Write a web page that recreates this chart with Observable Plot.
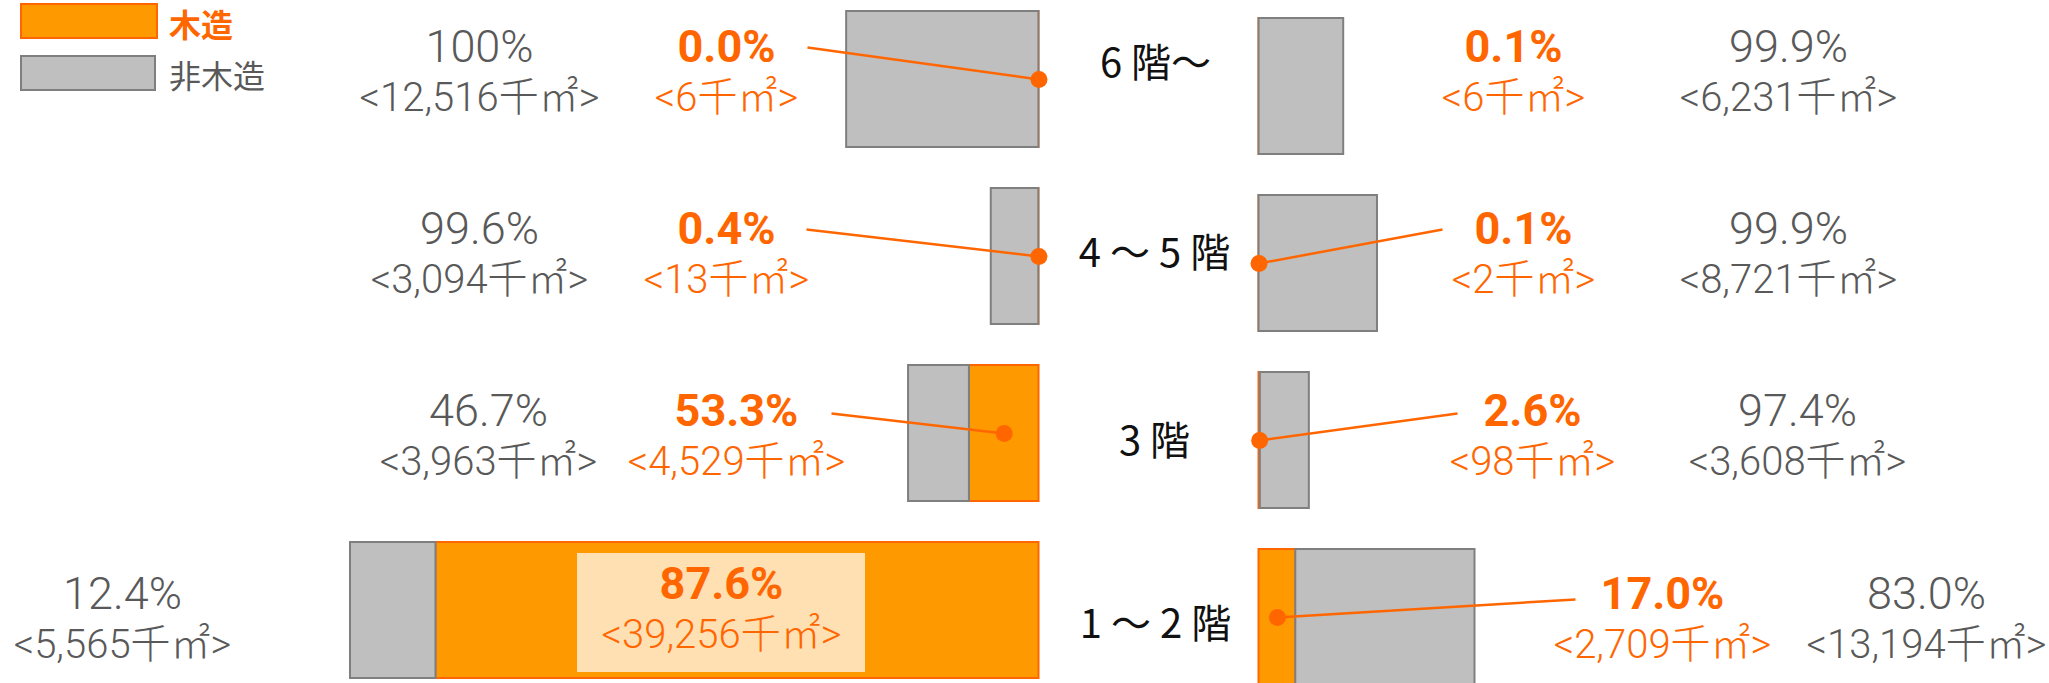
<!DOCTYPE html>
<html>
<head>
<meta charset="utf-8">
<script src="https://cdn.jsdelivr.net/npm/d3@7"></script>
<script src="https://cdn.jsdelivr.net/npm/@observablehq/plot@0.6"></script>
<style>
  html, body { margin: 0; padding: 0; background: #ffffff; }
  body { font-family: 'Noto Sans CJK JP', 'Noto Sans CJK SC', sans-serif; }
  #chart { position: relative; width: 2049px; height: 683px; overflow: hidden; }
  #chart svg { position: absolute; left: 0; top: 0; }
  .swatch { position: absolute; box-sizing: border-box; height: 36px; }
  .legtext { position: absolute; font-size: 32px; line-height: 46px; height: 46px; white-space: nowrap; }
</style>
</head>
<body>
<div id="chart"></div>
<script>
// ---------------- data ----------------
const floors = ["6 階〜", "4 〜 5 階", "3 階", "1 〜 2 階"];
const seriesNames = ["木造", "非木造"];

// left block (千㎡ and %)
const leftWood       = [6, 13, 4529, 39256];
const leftNonWood    = [12516, 3094, 3963, 5565];
const leftWoodPct    = [0.0, 0.4, 53.3, 87.6];
const leftNonWoodPct = [100, 99.6, 46.7, 12.4];

// right block (千㎡ and %)
const rightWood       = [6, 2, 98, 2709];
const rightNonWood    = [6231, 8721, 3608, 13194];
const rightWoodPct    = [0.1, 0.1, 2.6, 17.0];
const rightNonWoodPct = [99.9, 99.9, 97.4, 83.0];

// ---------------- style / layout ----------------
const W = 2049, H = 683;
const FONT = "'Noto Sans CJK JP', 'Noto Sans CJK SC', sans-serif";
const NUMFONT = "Roboto, 'Noto Sans CJK JP', sans-serif";
const C = {
  wood: "#ff9900", woodEdge: "#ff6600", woodText: "#ff6600",
  non: "#bfbfbf", nonEdge: "#7f7f7f", nonText: "#595959",
  box: "#ffe0b3", ink: "#111111"
};
const FS = 40;           // amount line / floor label font size
const FS_PCT = 45;       // percentage line font size
const LINE2 = 49;        // gap between the % line and the amount line

const layout = {
  leftX:  {range: [1038.5, 350]},          // bars grow leftwards from the centre
  rightX: {range: [1258.5, 1474.5]},       // bars grow rightwards
  leftY:  [10, 678.4],
  rightY: [17, 685.4],
  bandPad: 0.23,
  // label anchors (centre x, centre y of first line) per floor
  leftNon:   {x: [479, 479, 488, 122],    y: [47, 229, 411, 594]},
  leftWood:  {x: [726, 726, 736, 721],    y: [47, 229, 411, 584]},
  rightWood: {x: [1513, 1523, 1532, 1662], y: [47, 229, 411, 594]},
  rightNon:  {x: [1788, 1788, 1797, 1926], y: [47, 229, 411, 594]},
  // leader line start next to the wood label (null = no leader)
  leftLead:  [[807, 47], [806, 229], [831, 413], null],
  rightLead: [null, [1442, 229], [1457, 413], [1575, 599]],
  // label inside the bar gets a pale box
  leftBox:   [false, false, false, true],
  boxHalfW: 144, boxUp: 31, boxDown: 88,
  floorLabel: {x: [1155, 1154, 1154, 1155], y: [64, 254, 442, 625]}
};

// ---------------- helpers ----------------
const rows = (wood, non, wpct, npct) =>
  floors.map((floor, i) => ({floor, i, wood: wood[i], non: non[i], wpct: wpct[i], npct: npct[i]}));
const L = rows(leftWood, leftNonWood, leftWoodPct, leftNonWoodPct);
const R = rows(rightWood, rightNonWood, rightWoodPct, rightNonWoodPct);

const pct = v => (v === 100 ? "100" : v.toFixed(1)) + "%";
const amt = v => "<" + d3.format(",")(v) + "千㎡>";

function barPlot(data, xRange, yRange, lead) {
  const total = d3.max(data, d => d.wood + d.non);
  return Plot.plot({
    width: W, height: H, margin: 0,
    style: {background: "none", overflow: "visible"},
    x: {domain: [0, total], range: xRange, axis: null},
    y: {type: "band", domain: floors, range: yRange, paddingInner: layout.bandPad, paddingOuter: 0, axis: null},
    marks: [
      Plot.barX(data, {y: "floor", x1: () => 0, x2: "wood", fill: C.wood, stroke: C.woodEdge, strokeWidth: 2}),
      Plot.barX(data, {y: "floor", x1: "wood", x2: d => d.wood + d.non, fill: C.non, stroke: C.nonEdge, strokeWidth: 2}),
      Plot.dot(data.filter(d => lead[d.i]), {x: d => d.wood / 2, y: "floor", r: 8.5, fill: C.woodEdge})
    ]
  });
}

const plotL = barPlot(L, layout.leftX.range, layout.leftY, layout.leftLead);
const plotR = barPlot(R, layout.rightX.range, layout.rightY, layout.rightLead);

// leader lines: from the label to the dot placed by each bar plot's scales
function leaders(plot, data, lead) {
  const xs = plot.scale("x"), ys = plot.scale("y");
  return data.filter(d => lead[d.i]).map(d => ({
    x1: lead[d.i][0], y1: lead[d.i][1],
    x2: xs.apply(d.wood / 2), y2: ys.apply(d.floor) + ys.bandwidth / 2
  }));
}
const leadData = [...leaders(plotL, L, layout.leftLead), ...leaders(plotR, R, layout.rightLead)];

// two-line label: "%" line and "<amount>" line in one text element
function labelMark(data, pos, pctKey, amtKey, color, bold) {
  return Plot.text(data, {
    x: d => pos.x[d.i], y: d => pos.y[d.i] + LINE2 / 2,
    text: d => pct(d[pctKey]) + "\n" + amt(d[amtKey]),
    lineHeight: LINE2 / FS, lineAnchor: "middle",
    fill: color, fontSize: FS, fontFamily: NUMFONT, textAnchor: "middle",
    fontWeight: bold ? "bold" : 300
  });
}

const boxData = L.filter(d => layout.leftBox[d.i]).map(d => ({
  x1: layout.leftWood.x[d.i] - layout.boxHalfW, x2: layout.leftWood.x[d.i] + layout.boxHalfW,
  y1: layout.leftWood.y[d.i] - layout.boxUp, y2: layout.leftWood.y[d.i] + layout.boxDown
}));

const plotA = Plot.plot({
  width: W, height: H, margin: 0,
  style: {background: "none", overflow: "visible"},
  x: {domain: [0, W], range: [0, W], axis: null},
  y: {domain: [0, H], range: [0, H], axis: null},
  marks: [
    Plot.rect(boxData, {x1: "x1", x2: "x2", y1: "y1", y2: "y2", fill: C.box}),
    Plot.link(leadData, {x1: "x1", y1: "y1", x2: "x2", y2: "y2", stroke: C.woodEdge, strokeWidth: 2.5}),
    labelMark(L, layout.leftNon, "npct", "non", C.nonText, false),
    labelMark(L, layout.leftWood, "wpct", "wood", C.woodText, true),
    labelMark(R, layout.rightWood, "wpct", "wood", C.woodText, true),
    labelMark(R, layout.rightNon, "npct", "non", C.nonText, false),
    Plot.text(floors.map((f, i) => ({f, i})), {
      x: d => layout.floorLabel.x[d.i], y: d => layout.floorLabel.y[d.i], text: "f",
      fill: C.ink, fontSize: FS, fontFamily: FONT, textAnchor: "middle"
    })
  ]
});

// percentage line a little larger; amount line always in the light weight
d3.select(plotA).selectAll("text").each(function () {
  const spans = this.querySelectorAll("tspan");
  if (spans.length < 2) return;
  spans[0].setAttribute("font-size", FS_PCT);
  spans[1].setAttribute("font-weight", 300);
});

const chart = document.getElementById("chart");
chart.append(plotL, plotR, plotA);

// legend
const legend = [
  {name: seriesNames[0], fill: C.wood, edge: C.woodEdge, text: C.woodText, weight: "bold", top: 3, w: 138},
  {name: seriesNames[1], fill: C.non, edge: C.nonEdge, text: C.nonText, weight: "normal", top: 55, w: 136}
];
for (const it of legend) {
  const sw = document.createElement("div");
  sw.className = "swatch";
  Object.assign(sw.style, {left: "20px", top: it.top + "px", width: it.w + "px",
    background: it.fill, border: "2px solid " + it.edge});
  const tx = document.createElement("div");
  tx.className = "legtext";
  tx.textContent = it.name;
  Object.assign(tx.style, {left: "169px", top: Math.max(0, it.top - 4) + "px", color: it.text, fontWeight: it.weight});
  chart.append(sw, tx);
}
</script>
</body>
</html>
